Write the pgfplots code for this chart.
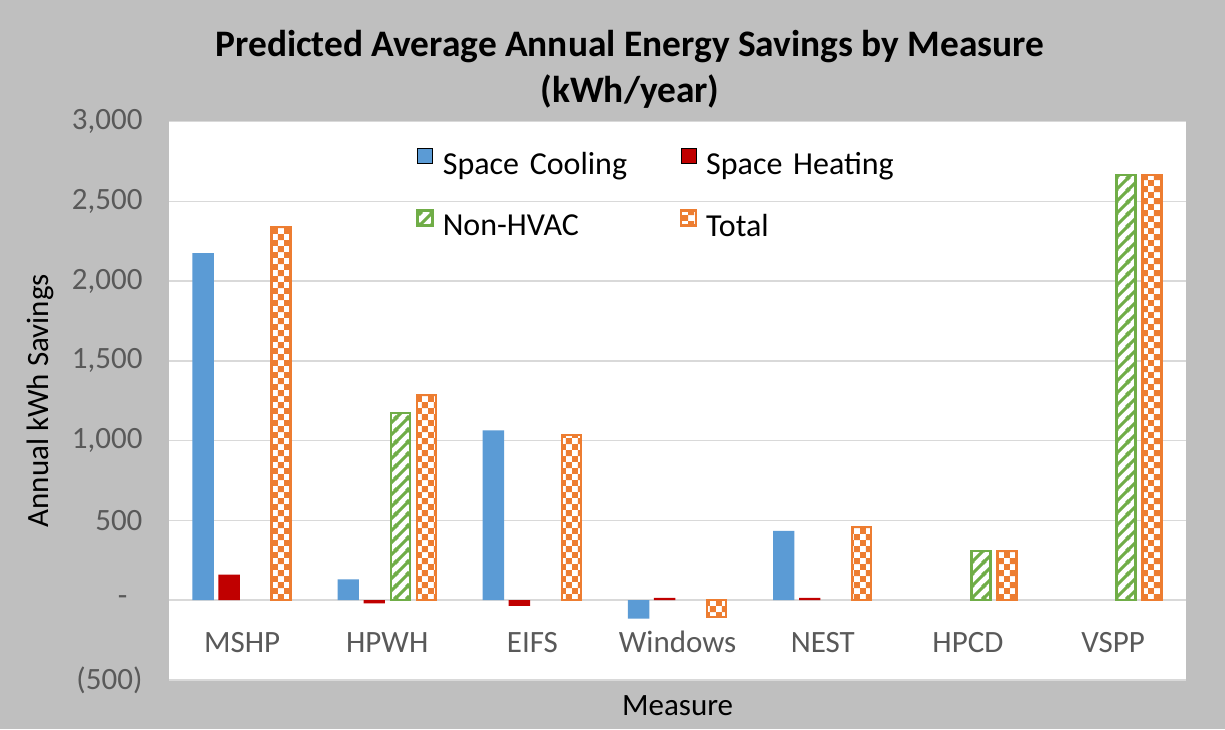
\documentclass[border=0pt]{standalone}
\usepackage{pgfplots}
\pgfplotsset{compat=1.18}
\usepackage{fontspec}
\setmainfont{Carlito}
\usetikzlibrary{patterns,patterns.meta}
\definecolor{cblue}{HTML}{5B9BD5}
\definecolor{cred}{HTML}{C00000}
\definecolor{cgreen}{HTML}{70AD47}
\definecolor{corange}{HTML}{ED7D31}
\definecolor{bggray}{HTML}{BFBFBF}
\definecolor{tickgray}{HTML}{595959}
\definecolor{gridgray}{HTML}{D9D9D9}
\tikzdeclarepattern{name=mystripes, type=uncolored,
  bottom left={(0pt,0pt)}, top right={(6pt,6pt)}, tile size={(6pt,6pt)},
  code={\draw[line width=1.6pt] (-1pt,-1pt) -- (7pt,7pt);
        \draw[line width=1.6pt] (-1pt,5pt) -- (1pt,7pt);
        \draw[line width=1.6pt] (5pt,-1pt) -- (7pt,1pt);}}
\tikzdeclarepattern{name=mychecks, type=uncolored,
  bottom left={(0pt,0pt)}, top right={(6.2pt,6.2pt)}, tile size={(6.2pt,6.2pt)},
  code={\fill (0pt,0pt) rectangle (3.1pt,3.1pt);
        \fill (3.1pt,3.1pt) rectangle (6.2pt,6.2pt);}}
\pgfplotstableread{
x y
0 2175
1 130
2 1065
3 -115
4 435
}\cooling
\pgfplotstableread{
x y
0 160
1 -20
2 -35
3 15
4 15
}\heating
\pgfplotstableread{
x y
1 1175
5 310
6 2665
}\nonhvac
\pgfplotstableread{
x y
0 2340
1 1285
2 1035
3 -105
4 458
5 310
6 2665
}\total
\begin{document}
\begin{tikzpicture}
\fill[bggray] (0,0) rectangle (612.5pt,364.5pt);
\path[use as bounding box] (0,0) rectangle (612.5pt,364.5pt);
\node[font=\bfseries\fontsize{18.7}{22}\selectfont] at (315pt,341pt) {Predicted Average Annual Energy Savings by Measure};
\node[font=\bfseries\fontsize{18.7}{22}\selectfont] at (315pt,318.5pt) {(kWh/year)};
\begin{axis}[
  at={(84.75pt,24.5pt)}, anchor=south west,
  scale only axis, width=508.1pt, height=279.25pt,
  axis background/.style={fill=white},
  axis line style={draw=none},
  major tick length=0pt,
  xmin=-0.5, xmax=6.5, ymin=-500, ymax=3000,
  xtick={0,1,2,3,4,5,6},
  xticklabels={MSHP,HPWH,EIFS,Windows,NEST,HPCD,VSPP},
  ytick={-500,500,1000,1500,2000,2500,3000},
  yticklabels={(500),500,{1,000},{1,500},{2,000},{2,500},{3,000}},
  extra y ticks={0},
  extra y tick labels={-},
  extra y tick style={ymajorgrids=true, yticklabel style={xshift=-7.5pt}},
  ymajorgrids, grid style={gridgray, line width=0.75pt},
  ticklabel style={font=\fontsize{15.5}{18}\selectfont, text=tickgray},
  xticklabel style={anchor=base, yshift=14pt},
  yticklabel style={anchor=east, xshift=-10pt},
  xlabel={Measure}, ylabel={Annual kWh Savings},
  label style={font=\fontsize{15.5}{18}\selectfont, text=black},
  xlabel style={at={(axis description cs:0.5,-0.0466)}, anchor=center},
  ylabel style={at={(axis description cs:-0.1274,0.5)}, anchor=center},
  ybar, 
  legend columns=2,
  legend style={at={(axis description cs:0.2426,0.8674)}, anchor=west,
    draw=none, fill=none, inner sep=0pt, column sep=0pt, row sep=14pt,
    font=\fontsize{16}{19}\selectfont,
    nodes={text width=114pt, align=left, inner xsep=4.5pt, inner ysep=2pt}},
  legend image code/.code={\draw[#1,/tikz/.cd] (0pt,0.8pt) rectangle (7.5pt,8.3pt);},
]
\addplot[fill=cblue, draw=none, bar width=10.7pt, bar shift=-19.5pt] table[x=x,y=y] {\cooling};
\addlegendentry{Space Cooling}
\addplot[fill=cred, draw=none, bar width=10.7pt, bar shift=-6.5pt] table[x=x,y=y] {\heating};
\addlegendentry{Space Heating}
\addplot[fill=white, draw=cgreen, line width=1.2pt, bar width=9.5pt, bar shift=6.5pt,
  postaction={pattern=mystripes, pattern color=cgreen}] table[x=x,y=y] {\nonhvac};
\addlegendentry{Non-HVAC}
\addplot[fill=white, draw=corange, line width=1.2pt, bar width=9.5pt, bar shift=19.5pt,
  postaction={pattern=mychecks, pattern color=corange}] table[x=x,y=y] {\total};
\addlegendentry{Total}
\end{axis}
\end{tikzpicture}
\end{document}
